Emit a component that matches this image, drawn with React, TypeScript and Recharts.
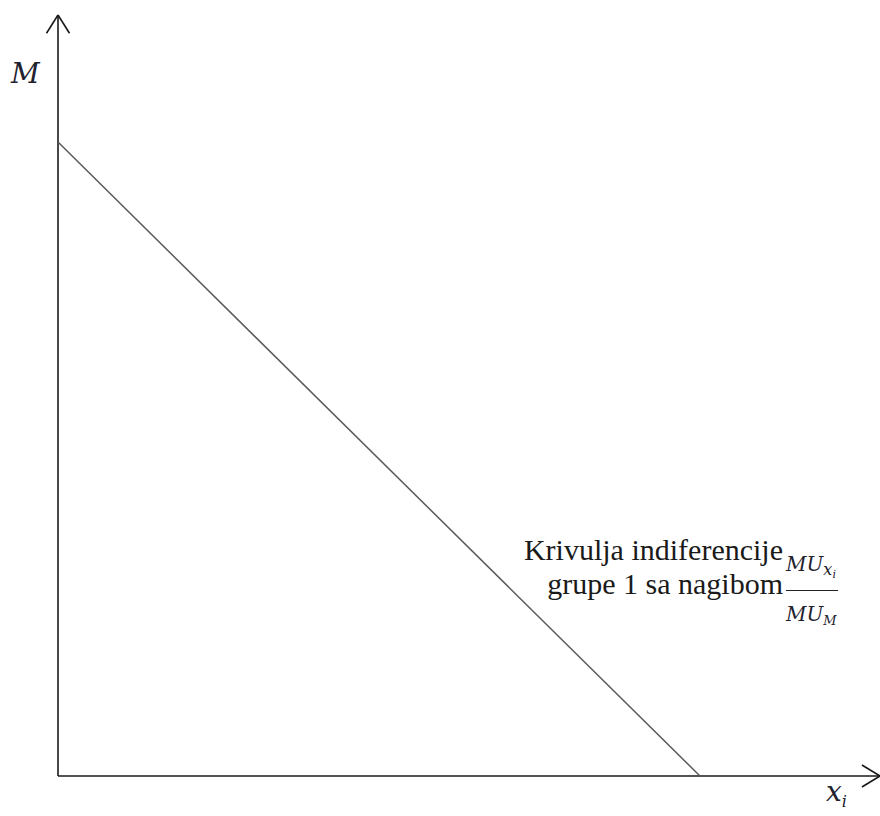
import React from "react";
import { LineChart, Line, XAxis, YAxis, ReferenceLine } from "recharts";

// indifference curve endpoints (x_i, M)
const curveX = [0, 7.81];
const curveY = [8.33, 0];

const X_DOMAIN: [number, number] = [0, 10];
const Y_DOMAIN: [number, number] = [0, 10];

const AXIS_LABEL_Y = "M";
const AXIS_LABEL_X = "x";
const AXIS_LABEL_X_SUB = "i";
const CURVE_LABEL = ["Krivulja indiferencije", "grupe 1 sa nagibom"];

const data = curveX.map((x, i) => ({ x, y: curveY[i] }));

const AXIS_COLOR = "#1a1a1a";
const CURVE_COLOR = "#5a5a5a";
const MATH_COLOR = "#22222e";

const mathFont = "\"DejaVu Serif\", serif";
const textFont = "\"Liberation Serif\"";

function Fraction() {
  return (
    <div
      style={{
        position: "absolute",
        left: 786,
        top: 553,
        width: 54,
        fontFamily: mathFont,
        fontStyle: "italic",
        fontSize: 20,
        color: MATH_COLOR,
        lineHeight: "22px",
      }}
    >
      <div style={{ height: 37, whiteSpace: "nowrap" }}>
        MU
        <span style={{ fontSize: 16, position: "relative", top: 4 }}>
          x
          <span style={{ fontSize: 11, position: "relative", top: 3 }}>i</span>
        </span>
      </div>
      <div style={{ borderTop: "1.5px solid #222", width: 52 }} />
      <div style={{ marginTop: 12, whiteSpace: "nowrap" }}>
        MU
        <span style={{ fontSize: 13, position: "relative", top: 4 }}>M</span>
      </div>
    </div>
  );
}

export default function App() {
  return (
    <div
      style={{
        position: "absolute",
        left: 0,
        top: 0,
        width: 880,
        height: 816,
        background: "#fff",
      }}
    >
      <LineChart
        width={880}
        height={816}
        data={data}
        margin={{ top: 15, right: 0, bottom: 40, left: 58 }}
      >
        <XAxis dataKey="x" type="number" domain={X_DOMAIN} hide />
        <YAxis type="number" domain={Y_DOMAIN} hide />
        {/* axes with arrow heads */}
        <ReferenceLine
          segment={[{ x: 0, y: 0 }, { x: 10, y: 0 }]}
          stroke={AXIS_COLOR}
          strokeWidth={1.6}
          ifOverflow="visible"
        />
        <ReferenceLine
          segment={[{ x: 0, y: 0 }, { x: 0, y: 10 }]}
          stroke={AXIS_COLOR}
          strokeWidth={1.6}
          ifOverflow="visible"
        />
        <ReferenceLine
          segment={[{ x: -0.14, y: 9.76 }, { x: 0, y: 10 }]}
          stroke={AXIS_COLOR}
          strokeWidth={1.6}
          ifOverflow="visible"
        />
        <ReferenceLine
          segment={[{ x: 0.14, y: 9.76 }, { x: 0, y: 10 }]}
          stroke={AXIS_COLOR}
          strokeWidth={1.6}
          ifOverflow="visible"
        />
        <ReferenceLine
          segment={[{ x: 9.78, y: 0.145 }, { x: 10, y: 0 }]}
          stroke={AXIS_COLOR}
          strokeWidth={1.6}
          ifOverflow="visible"
        />
        <ReferenceLine
          segment={[{ x: 9.78, y: -0.145 }, { x: 10, y: 0 }]}
          stroke={AXIS_COLOR}
          strokeWidth={1.6}
          ifOverflow="visible"
        />
        <Line
          dataKey="y"
          stroke={CURVE_COLOR}
          strokeWidth={1.5}
          dot={false}
          isAnimationActive={false}
        />
      </LineChart>

      <div
        style={{
          position: "absolute",
          left: 11,
          top: 57,
          fontFamily: mathFont,
          fontStyle: "italic",
          fontSize: 28,
          color: MATH_COLOR,
        }}
      >
        {AXIS_LABEL_Y}
      </div>
      <div
        style={{
          position: "absolute",
          left: 826,
          top: 775,
          fontFamily: mathFont,
          fontStyle: "italic",
          fontSize: 28,
          color: MATH_COLOR,
        }}
      >
        {AXIS_LABEL_X}
        <span style={{ fontSize: 16, position: "relative", top: 6 }}>
          {AXIS_LABEL_X_SUB}
        </span>
      </div>

      <div
        style={{
          position: "absolute",
          left: 480,
          top: 533,
          width: 303,
          textAlign: "right",
          fontFamily: textFont,
          fontSize: 30,
          lineHeight: "34px",
          color: "#1a1a1a",
          whiteSpace: "nowrap",
        }}
      >
        <div>{CURVE_LABEL[0]}</div>
        <div>{CURVE_LABEL[1]}</div>
      </div>
      <Fraction />
    </div>
  );
}
